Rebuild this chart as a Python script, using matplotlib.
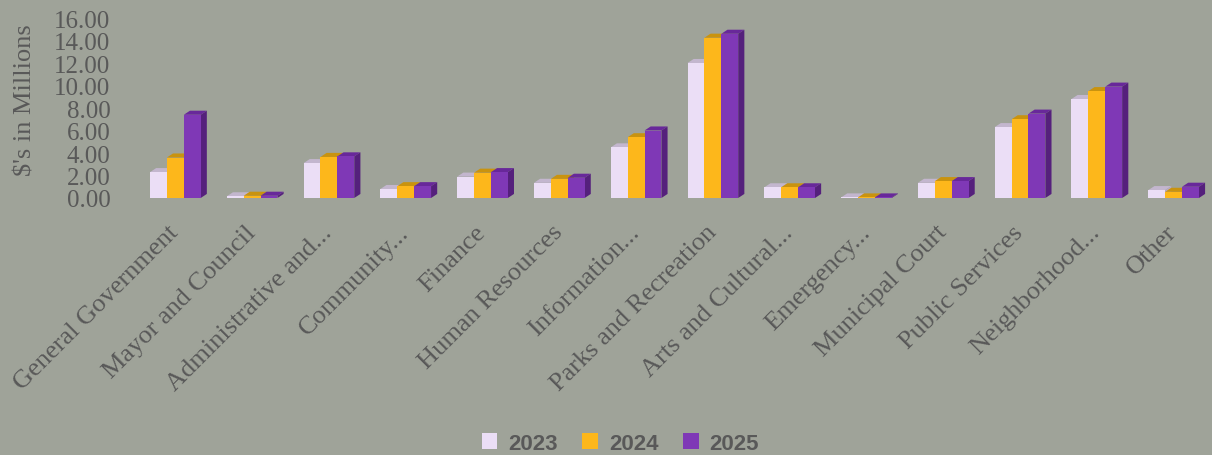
import matplotlib

matplotlib.use("Agg")

import matplotlib.pyplot as plt
import numpy as np
from matplotlib.patches import Polygon, Patch

categories = [
    "General Government",
    "Mayor and Council",
    "Administrative and...",
    "Community...",
    "Finance",
    "Human Resources",
    "Information...",
    "Parks and Recreation",
    "Arts and Cultural...",
    "Emergency...",
    "Municipal Court",
    "Public Services",
    "Neighborhood...",
    "Other",
]

years = ["2023", "2024", "2025"]

values_2023 = [2.3, 0.15, 3.1, 0.8, 1.9, 1.35, 4.5, 12.0, 0.95, 0.05, 1.35, 6.3, 8.8, 0.7]
values_2024 = [3.6, 0.2, 3.65, 1.05, 2.25, 1.7, 5.4, 14.25, 0.95, 0.05, 1.5, 7.0, 9.5, 0.55]
values_2025 = [7.4, 0.2, 3.7, 1.05, 2.3, 1.8, 6.0, 14.6, 0.95, 0.05, 1.5, 7.5, 9.9, 1.0]

front_colors = ["#ebdef6", "#fdb71b", "#7f38b6"]
top_colors = ["#c3b6ce", "#c9930f", "#68289a"]
side_colors = ["#b8abc4", "#b88510", "#55207c"]

BG = "#9fa399"
TEXT = "#595959"

# fake 3D depth of each bar, in data units
DEPTH_X = 0.08
DEPTH_Y = 0.36
BAR_W = 0.22

fig = plt.figure(figsize=(12.12, 4.56), dpi=100, facecolor=BG)
ax = fig.add_axes([0.113, 0.5636, 0.887, 0.3947], facecolor=BG)

x = np.arange(len(categories))
series = [values_2023, values_2024, values_2025]

for k, vals in enumerate(series):
    offs = x + (k - 1) * BAR_W
    bars = ax.bar(offs, vals, width=BAR_W, color=front_colors[k],
                  linewidth=0, zorder=3 + 2 * k)
    for rect in bars:
        x0 = rect.get_x()
        x1 = x0 + rect.get_width()
        h = rect.get_height()
        top = Polygon([(x0, h), (x1, h), (x1 + DEPTH_X, h + DEPTH_Y),
                       (x0 + DEPTH_X, h + DEPTH_Y)],
                      closed=True, facecolor=top_colors[k], edgecolor="none",
                      zorder=2 + 2 * k)
        side = Polygon([(x1, 0), (x1 + DEPTH_X, DEPTH_Y),
                        (x1 + DEPTH_X, h + DEPTH_Y), (x1, h)],
                       closed=True, facecolor=side_colors[k], edgecolor="none",
                       zorder=2 + 2 * k)
        ax.add_patch(top)
        ax.add_patch(side)

ax.set_xlim(-0.5, len(categories) - 0.5)
ax.set_ylim(0, 16)
ax.set_yticks(np.arange(0, 17, 2))
ax.set_yticklabels([f"{v:.2f}" for v in np.arange(0, 17, 2)],
                   fontfamily="Liberation Serif", fontsize=18, color=TEXT)
ax.tick_params(axis="y", length=0, pad=19)
ax.set_xticks(x)
ax.set_xticklabels(categories, rotation=45, ha="right", va="center",
                   rotation_mode="anchor", fontfamily="Liberation Serif",
                   fontsize=19, color=TEXT)
ax.tick_params(axis="x", length=0, pad=22)
for s in ax.spines.values():
    s.set_visible(False)

fig.text(0.021, 0.78, "$'s in Millions", rotation=90, ha="center", va="center",
         fontfamily="Liberation Serif", fontsize=19, color=TEXT)

handles = [Patch(facecolor=c, edgecolor="none") for c in front_colors]
fig.legend(handles, years, loc="center", bbox_to_anchor=(0.512, 0.026), ncol=3,
           frameon=False, handlelength=0.7, handleheight=0.7,
           handletextpad=0.5, columnspacing=1.1,
           prop={"family": "Liberation Sans", "weight": "bold", "size": 16},
           labelcolor=TEXT)

fig.savefig("out.png", dpi=100, facecolor=BG)
